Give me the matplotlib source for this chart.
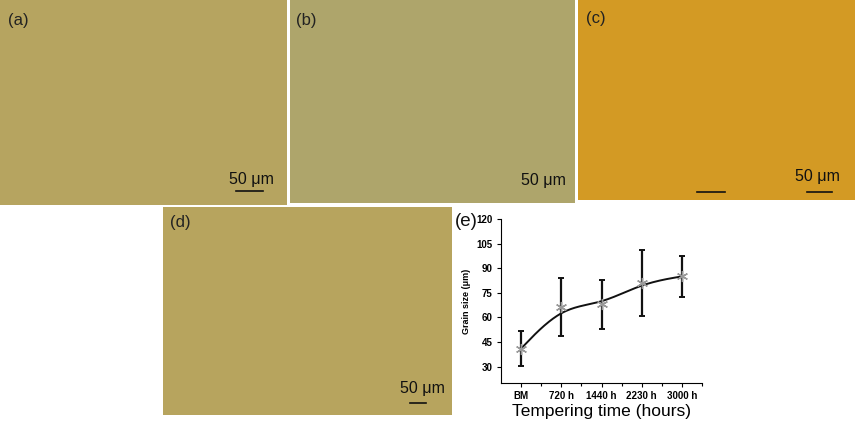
import matplotlib
matplotlib.use("Agg")
import matplotlib.pyplot as plt
import numpy as np

# ---------------------------------------------------------------------
# Data
# ---------------------------------------------------------------------
categories = ["BM", "720 h", "1440 h", "2230 h", "3000 h"]
grain_size = [41.0, 66.5, 68.0, 80.8, 85.0]
grain_err = [10.5, 17.7, 15.0, 20.2, 12.7]
y_ticks = [30, 45, 60, 75, 90, 105, 120]

panel_labels = ["(a)", "(b)", "(c)", "(d)"]
panel_colors = ["#b6a460", "#aea56b", "#d39a24", "#b7a45e"]

W, H = 855, 426


def px_axes(fig, left, top, right, bottom):
    """
    Add an axes given pixel edges measured from the top-left corner
    """
    return fig.add_axes([left / W, 1 - bottom / H, (right - left) / W, (bottom - top) / H])


def bspline(xs, ys, n=40):
    """
    Clamped uniform cubic B-spline through control points (Origin style)
    """
    px = np.r_[[xs[0]] * 2, xs, [xs[-1]] * 2]
    py = np.r_[[ys[0]] * 2, ys, [ys[-1]] * 2]
    t = np.linspace(0, 1, n)
    b0 = (1 - t) ** 3 / 6
    b1 = (3 * t**3 - 6 * t**2 + 4) / 6
    b2 = (-3 * t**3 + 3 * t**2 + 3 * t + 1) / 6
    b3 = t**3 / 6
    cx, cy = [], []
    for i in range(len(px) - 3):
        cx.append(b0 * px[i] + b1 * px[i + 1] + b2 * px[i + 2] + b3 * px[i + 3])
        cy.append(b0 * py[i] + b1 * py[i + 1] + b2 * py[i + 2] + b3 * py[i + 3])
    return np.concatenate(cx), np.concatenate(cy)


plt.rcParams["font.family"] = ["Liberation Sans", "DejaVu Sans"]

fig = plt.figure(figsize=(W / 100, H / 100), dpi=100)
fig.patch.set_facecolor("white")

# ---------------------------------------------------------------------
# Micrograph panels
# ---------------------------------------------------------------------
boxes = [(0, 0, 287, 205), (290, 0, 575, 203), (578, 0, 855, 200), (163, 207, 452, 415)]
label_pos = [(8, 20), (296, 20), (586, 19), (170, 222)]
scale_txt = [(251, 180), (543, 181), (817, 176), (422, 389)]
scale_bars = [[(236, 263, 191)], [], [(697, 725, 192), (807, 832, 192)], [(410, 426, 403)]]

for i, (l, t, r, b) in enumerate(boxes):
    ax = px_axes(fig, l, t, r, b)
    ax.set_facecolor(panel_colors[i])
    ax.set_xlim(l, r)
    ax.set_ylim(b, t)
    ax.set_xticks([])
    ax.set_yticks([])
    for s in ax.spines.values():
        s.set_visible(False)
    lx, ly = label_pos[i]
    ax.text(lx, ly, panel_labels[i], fontsize=12, color="#222222", va="center", ha="left")
    sx, sy = scale_txt[i]
    ax.text(sx, sy, "50 μm", fontsize=11.5, color="#111111", va="center", ha="center")
    for x0, x1, yb in scale_bars[i]:
        ax.plot([x0, x1], [yb, yb], color="#111111", lw=1.2)

# ---------------------------------------------------------------------
# Grain size chart
# ---------------------------------------------------------------------
ax = px_axes(fig, 501, 219, 702, 383)
x = np.arange(len(categories))
sx, sy = bspline(x, grain_size)
ax.plot(sx, sy, color="#111111", lw=1.4, zorder=2)
ax.errorbar(x, grain_size, yerr=grain_err, fmt="none", ecolor="#111111",
            elinewidth=1.6, capsize=2.5, capthick=1.4, zorder=3)
ax.plot(x, grain_size, ls="none", marker=(6, 2, 0), ms=8, mew=1.0,
        color="#999999", zorder=4)

ax.set_xlim(-0.5, 4.5)
ax.set_ylim(20, 120)
ax.set_xticks(x)
ax.set_xticklabels(categories, fontsize=7, fontweight="bold")
ax.set_xticks([0.5, 1.5, 2.5, 3.5, 4.5], minor=True)
ax.set_yticks(y_ticks)
ax.set_yticklabels([str(v) for v in y_ticks], fontsize=7, fontweight="bold")
ax.tick_params(axis="both", which="major", direction="out", length=3, width=0.8, pad=3)
ax.tick_params(axis="x", which="minor", direction="out", length=2, width=0.8)
for side in ["top", "right"]:
    ax.spines[side].set_visible(False)
for side in ["left", "bottom"]:
    ax.spines[side].set_linewidth(0.8)
ax.set_facecolor("white")
ax.set_ylabel("Grain size (μm)", fontsize=6.5, fontweight="bold", labelpad=4)
ax.set_xlabel("Tempering time (hours)", fontsize=12.5, labelpad=2)
fig.text(455 / W, 1 - 222 / H, "(e)", fontsize=13.5, ha="left", va="center", color="#111111")

fig.savefig("out.png", dpi=100)
